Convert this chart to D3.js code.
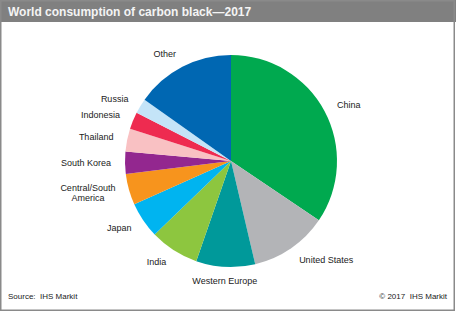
<!DOCTYPE html>
<html>
<head>
<meta charset="utf-8">
<script src="https://cdn.jsdelivr.net/npm/d3@7"></script>
<style>
  body { margin: 0; background: #fff; }
  svg { display: block; font-family: Arial, "Liberation Sans", sans-serif; }
</style>
</head>
<body>
<svg id="chart"></svg>
<script>
var regions = ['China', 'United States', 'Western Europe', 'India', 'Japan',
  'Central/South America', 'South Korea', 'Thailand', 'Indonesia', 'Russia', 'Other'];
var shares = [34.5, 11.9, 9.0, 7.5, 5.5, 4.75, 3.4, 3.5, 2.6, 2.3, 15.2];
var colors = ['#00a94f', '#b3b4b7', '#00999a', '#8dc63f', '#00b4f0', '#f7941d',
  '#93278f', '#f9c1c3', '#ee2b50', '#c4e4f8', '#0067b2'];
var label_lines = {'Central/South America': ['Central/South', 'America']};

var width = 456, height = 311;
var cx = 231, cy = 161, radius = 106, label_r = 120;

var svg = d3.select('#chart').attr('width', width).attr('height', height);

// frame + title bar
svg.append('rect')
  .attr('x', 0).attr('y', 0).attr('width', width).attr('height', 22)
  .style('fill', '#808080');
svg.append('rect')
  .attr('x', 0.75).attr('y', 0.75).attr('width', width - 2.5).attr('height', height - 1.5)
  .style('fill', 'none').style('stroke', '#8a8a8a').style('stroke-width', 1.5);
svg.append('text')
  .attr('x', 8).attr('y', 16)
  .style('font-size', '12px').style('font-weight', 'bold').style('fill', '#f4f4f4')
  .text('World consumption of carbon black\u20142017');

var slices = regions.map((r, i) => ({name: r, value: shares[i], color: colors[i]}));
var pie = d3.pie().sort(null).value(d => d.value);
var arc = d3.arc().innerRadius(0).outerRadius(radius);

var g = svg.append('g').attr('transform', 'translate(' + cx + ',' + cy + ')');
var arcs = pie(slices);

g.selectAll('.slice')
  .data(arcs)
  .enter()
  .append('path')
    .attr('class', 'slice')
    .attr('d', arc)
    .style('fill', d => d.data.color);

g.selectAll('.slice_label')
  .data(arcs)
  .enter()
  .append('text')
    .attr('class', 'slice_label')
    .style('font-size', '9px')
    .style('fill', '#222')
    .each(function(d) {
      let a = (d.startAngle + d.endAngle) / 2;
      let x = label_r * Math.sin(a);
      let y = -label_r * Math.cos(a);
      let anchor = Math.abs(Math.sin(a)) < 0.2 ? 'middle' : (Math.sin(a) > 0 ? 'start' : 'end');
      let lines = label_lines[d.data.name] || [d.data.name];
      let t = d3.select(this);
      if (lines.length == 1) {
        t.attr('text-anchor', anchor).attr('x', x).attr('y', y + 3).text(lines[0]);
      } else {
        // centred block, right edge at x
        let tmp = t.append('tspan').text(lines[0]);
        let w = tmp.node().getComputedTextLength();
        tmp.remove();
        t.attr('text-anchor', 'middle');
        lines.forEach((ln, k) => {
          t.append('tspan')
            .attr('x', x - w / 2)
            .attr('y', y - 2 + k * 10)
            .text(ln);
        });
      }
    });

// footer
svg.append('text')
  .attr('x', 8).attr('y', 299)
  .style('font-size', '8px').style('fill', '#222')
  .text('Source:\u00a0\u00a0IHS Markit');
svg.append('text')
  .attr('x', 447).attr('y', 299)
  .attr('text-anchor', 'end')
  .style('font-size', '8px').style('fill', '#222')
  .text('\u00a9 2017\u00a0\u00a0IHS Markit');
</script>
</body>
</html>
